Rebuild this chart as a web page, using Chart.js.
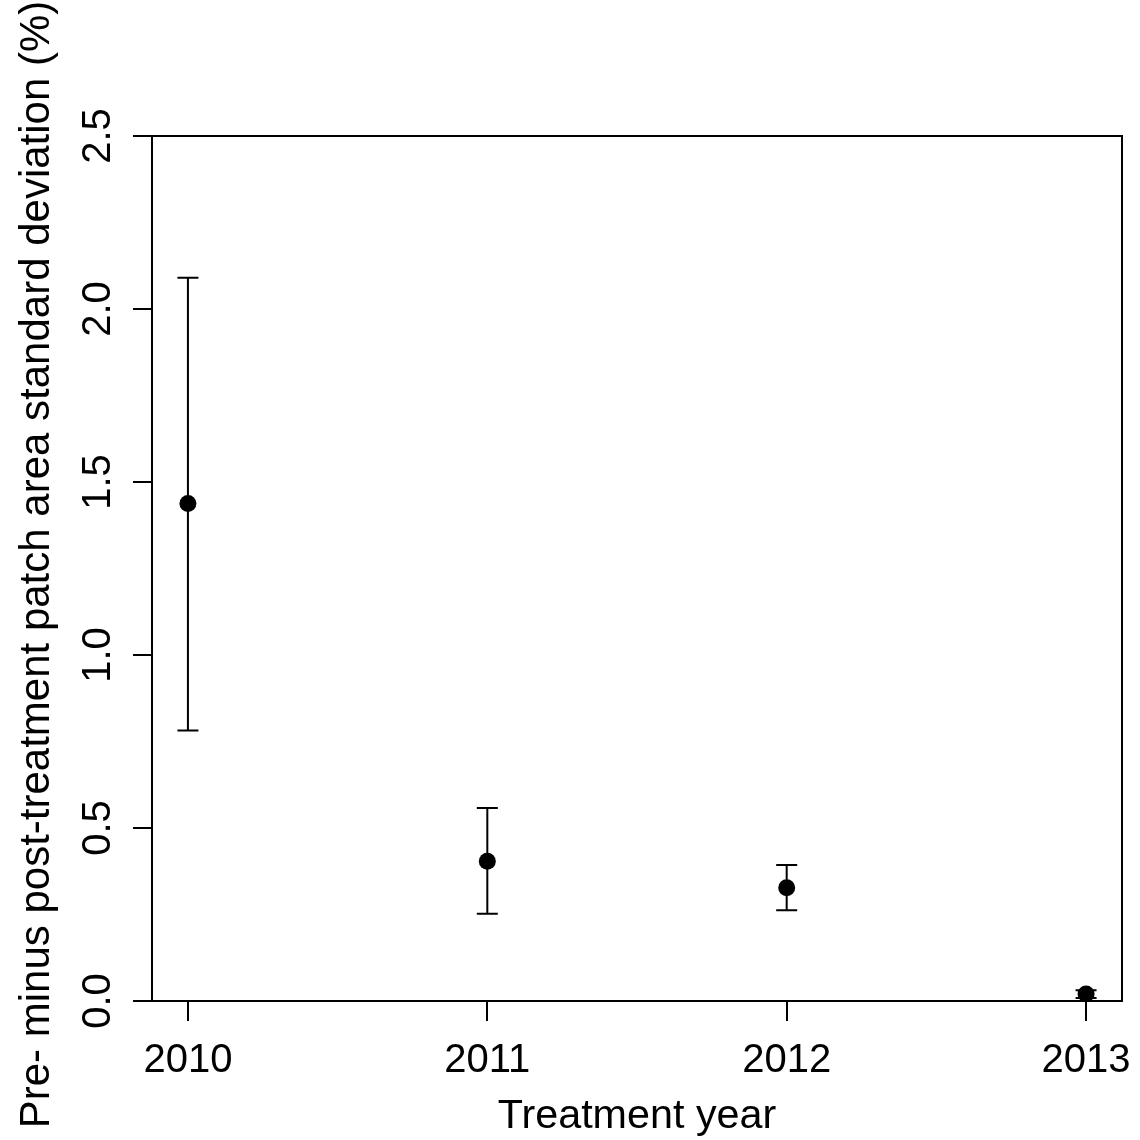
<!DOCTYPE html>
<html>
<head>
<meta charset="utf-8">
<script src="https://cdn.jsdelivr.net/npm/chart.js@4/dist/chart.umd.min.js"></script>
<style>
html,body{margin:0;padding:0;background:#fff;}
#wrap{width:1140px;height:1140px;}
</style>
</head>
<body>
<div id="wrap"><canvas id="c" width="1140" height="1140"></canvas></div>
<script>
const years = [2010, 2011, 2012, 2013];
const means = [1.438, 0.404, 0.327, 0.020];
const lowers = [0.782, 0.252, 0.262, 0.009];
const uppers = [2.090, 0.558, 0.393, 0.031];
const xTickValues = [2010, 2011, 2012, 2013];
const xTickLabels = ["2010", "2011", "2012", "2013"];
const yTickValues = [0, 0.5, 1.0, 1.5, 2.0, 2.5];
const yTickLabels = ["0.0", "0.5", "1.0", "1.5", "2.0", "2.5"];
const xTitle = "Treatment year";
const yTitle = "Pre- minus post-treatment patch area standard deviation (%)";

const FONT = '"Liberation Sans", Arial, Helvetica, sans-serif';

const rPlot = {
  id: 'rPlot',
  beforeDatasetsDraw(chart) {
    const ctx = chart.ctx, xs = chart.scales.x, ys = chart.scales.y;
    ctx.save();
    ctx.strokeStyle = '#000';
    ctx.lineWidth = 2;
    for (let i = 0; i < years.length; i++) {
      const px = xs.getPixelForValue(years[i]);
      const lo = ys.getPixelForValue(lowers[i]);
      const hi = ys.getPixelForValue(uppers[i]);
      ctx.beginPath();
      ctx.moveTo(px, lo); ctx.lineTo(px, hi);
      ctx.moveTo(px - 10.5, lo); ctx.lineTo(px + 10.5, lo);
      ctx.moveTo(px - 10.5, hi); ctx.lineTo(px + 10.5, hi);
      ctx.stroke();
    }
    ctx.restore();
  },
  afterDraw(chart) {
    const ctx = chart.ctx, a = chart.chartArea, xs = chart.scales.x, ys = chart.scales.y;
    ctx.save();
    ctx.strokeStyle = '#000';
    ctx.lineWidth = 2;
    ctx.strokeRect(a.left, a.top, a.right - a.left, a.bottom - a.top);
    ctx.fillStyle = '#000';
    ctx.font = '40px ' + FONT;
    ctx.textAlign = 'center';
    ctx.textBaseline = 'alphabetic';
    xTickValues.forEach((v, i) => {
      ctx.fillText(xTickLabels[i], xs.getPixelForValue(v), 1072);
    });
    yTickValues.forEach((v, i) => {
      ctx.save();
      ctx.translate(110, ys.getPixelForValue(v));
      ctx.rotate(-Math.PI / 2);
      ctx.fillText(yTickLabels[i], 0, 0);
      ctx.restore();
    });
    ctx.font = '41.3px ' + FONT;
    ctx.fillText(xTitle, (a.left + a.right) / 2, 1128);
    ctx.save();
    ctx.font = '42px ' + FONT;
    ctx.translate(49, (a.top + a.bottom) / 2 - 4);
    ctx.rotate(-Math.PI / 2);
    ctx.fillText(yTitle, 0, 0);
    ctx.restore();
    ctx.restore();
  }
};

new Chart(document.getElementById('c'), {
  type: 'scatter',
  data: {
    datasets: [{
      data: years.map((y, i) => ({x: y, y: means[i]})),
      pointRadius: 8.5,
      pointHoverRadius: 8.5,
      pointBackgroundColor: '#000',
      pointBorderWidth: 0,
      showLine: false
    }]
  },
  options: {
    responsive: false,
    animation: false,
    devicePixelRatio: 1,
    layout: {padding: {top: 136, right: 18, left: 0, bottom: 0}},
    plugins: {legend: {display: false}, tooltip: {enabled: false}},
    scales: {
      x: {
        type: 'linear',
        min: 2009.88, max: 2013.12,
        afterBuildTicks: s => { s.ticks = xTickValues.map(v => ({value: v})); },
        afterFit: s => { s.height = 139; },
        ticks: {display: false},
        border: {display: false},
        grid: {drawOnChartArea: false, drawTicks: true, tickLength: 20, color: '#000', lineWidth: 2}
      },
      y: {
        type: 'linear',
        min: 0, max: 2.5,
        afterBuildTicks: s => { s.ticks = yTickValues.map(v => ({value: v})); },
        afterFit: s => { s.width = 152; },
        ticks: {display: false},
        border: {display: false},
        grid: {drawOnChartArea: false, drawTicks: true, tickLength: 19, color: '#000', lineWidth: 2}
      }
    }
  },
  plugins: [rPlot]
});
</script>
</body>
</html>
